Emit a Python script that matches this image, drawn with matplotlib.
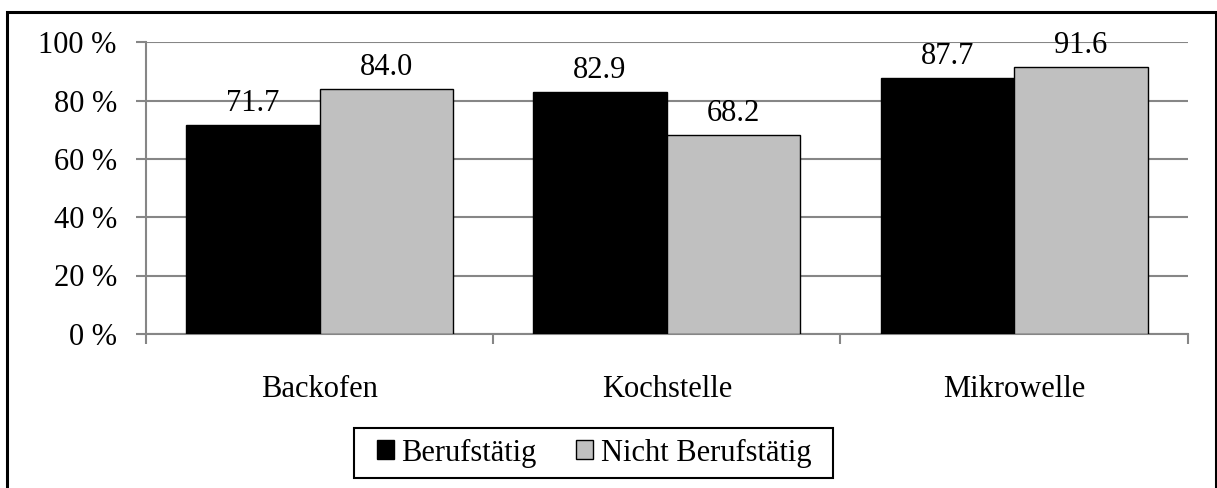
import matplotlib
matplotlib.use('Agg')
import matplotlib.pyplot as plt
from matplotlib.patches import Rectangle
import numpy as np

categories = ['Backofen', 'Kochstelle', 'Mikrowelle']
berufstaetig = [71.7, 82.9, 87.7]
nicht_berufstaetig = [84.0, 68.2, 91.6]
series_names = ['Berufstätig', 'Nicht Berufstätig']
yticks = [0, 20, 40, 60, 80, 100]

plt.rcParams['font.family'] = ['Liberation Serif', 'DejaVu Serif']
plt.rcParams['font.size'] = 22

W, H = 1217, 488
fig = plt.figure(figsize=(W / 100, H / 100), dpi=100)
ax = fig.add_axes([146 / W, 1 - 333.8 / H, (1187.7 - 146) / W, (333.8 - 42.3) / H])

grey = '#868686'
x = np.arange(len(categories))
bw = 0.3847
b1 = ax.bar(x - bw / 2, berufstaetig, bw, color='black', edgecolor='black', linewidth=1, zorder=3,
            label=series_names[0])
b2 = ax.bar(x + bw / 2, nicht_berufstaetig, bw, color='#c0c0c0', edgecolor='black', linewidth=1, zorder=3,
            label=series_names[1])

for bars in (b1, b2):
   for r in bars:
      ax.annotate('{:.1f}'.format(r.get_height()), (r.get_x() + r.get_width() / 2, r.get_height()),
                  xytext=(0, 5), textcoords='offset points', ha='center', va='bottom', zorder=4)

ax.set_xlim(-0.5, len(categories) - 0.5)
ax.set_ylim(0, 100)
ax.set_yticks(yticks)
ax.set_yticklabels(['{} %'.format(v) for v in yticks])
ax.yaxis.grid(True, color=grey, linewidth=1.5, zorder=0)
ax.set_axisbelow(True)

# category labels in the middle, separator ticks at the boundaries
ax.set_xticks(x)
ax.set_xticklabels(categories)
ax.tick_params(axis='x', which='major', length=0, pad=30)
ax.set_xticks(np.arange(len(categories) + 1) - 0.5, minor=True)
ax.tick_params(axis='x', which='minor', length=7, width=1.5, color=grey)
ax.tick_params(axis='y', length=7, width=1.5, color=grey, pad=14)

for s in ['top', 'right']:
   ax.spines[s].set_visible(False)
for s in ['left', 'bottom']:
   ax.spines[s].set_color(grey)
   ax.spines[s].set_linewidth(1.5)

leg = fig.legend(loc='center', bbox_to_anchor=(594 / W, 1 - 453 / H), ncol=2, frameon=False,
                 handlelength=0.55, handleheight=0.55, handletextpad=0.25, columnspacing=1.3,
                 borderpad=0.2)
for h in leg.legend_handles:
   h.set_edgecolor('black')
   h.set_linewidth(1)

# legend box
fig.patches.append(Rectangle((354 / W, 1 - 478 / H), (833 - 354) / W, 50 / H,
                             transform=fig.transFigure, fill=False, edgecolor='black', linewidth=1.5))

# outer chart border
fig.patches.append(Rectangle((6.5 / W, -0.05), (1215.5 - 6.5) / W, 1.05 - 11.5 / H,
                             transform=fig.transFigure, fill=False, edgecolor='black', linewidth=2.2))

plt.savefig('out.png', dpi=100)
